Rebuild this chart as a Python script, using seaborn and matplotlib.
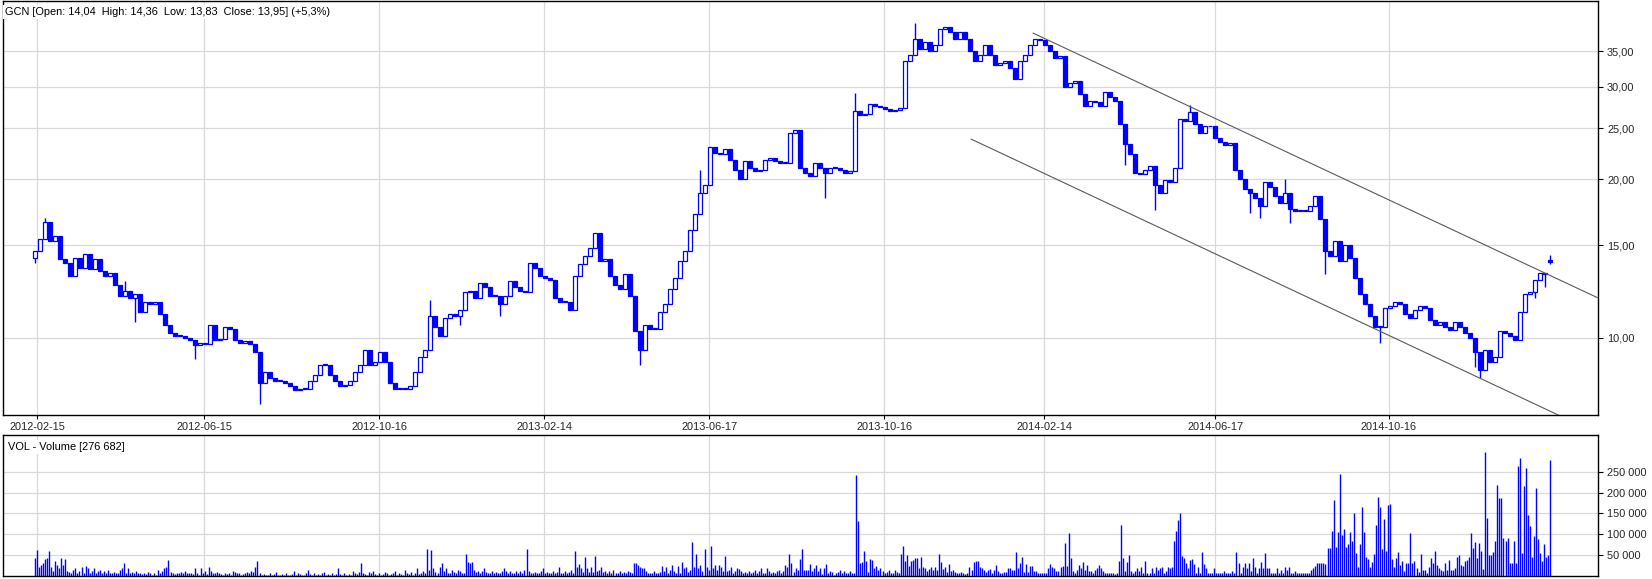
import numpy as np
import matplotlib
matplotlib.use("Agg")
import matplotlib.pyplot as plt
import seaborn as sns
from matplotlib.ticker import FixedLocator, FuncFormatter, NullFormatter

# ---------------- data ----------------
title_text = "GCN [Open: 14,04  High: 14,36  Low: 13,83  Close: 13,95] (+5,3%)"
volume_text = "VOL - Volume [276 682]"

# closing prices, one candle per ~2.5 sessions, oldest first
closes = [
    14.6, 15.4, 16.6, 15.3, 15.6, 14.1, 13.9, 13.1, 14.2, 13.6,
    14.4, 13.5, 14.1, 13.4, 13.1, 13.3, 12.6, 12.0, 12.3, 11.9,
    12.1, 11.2, 11.7, 11.6, 11.7, 11.1, 10.6, 10.2, 10.1, 10.1,
    10.0, 9.9, 9.7, 9.8, 9.75, 10.6, 9.9, 9.95, 10.5, 10.4,
    9.9, 9.8, 9.85, 9.75, 9.4, 8.2, 8.6, 8.4, 8.3, 8.3,
    8.2, 8.1, 7.95, 8.0, 8.0, 8.3, 8.5, 8.9, 8.9, 8.5,
    8.3, 8.1, 8.15, 8.3, 8.6, 8.9, 9.5, 8.9, 9.0, 9.4,
    9.0, 8.2, 8.0, 8.05, 8.0, 8.1, 8.6, 9.2, 9.5, 11.0,
    10.5, 10.1, 10.9, 11.1, 11.0, 11.3, 12.2, 12.3, 11.9, 12.7,
    12.5, 12.0, 12.0, 11.6, 12.0, 12.8, 12.5, 12.3, 12.2, 13.9,
    13.6, 13.1, 13.0, 12.9, 11.9, 11.7, 11.7, 11.3, 13.1, 13.8,
    14.3, 14.8, 15.8, 14.0, 14.1, 13.1, 12.6, 12.4, 13.2, 12.0,
    10.3, 9.5, 10.6, 10.4, 10.4, 11.2, 11.6, 12.4, 13.0, 14.0,
    14.6, 16.0, 17.2, 18.8, 19.5, 23.0, 22.4, 22.3, 22.8, 21.8,
    20.8, 20.0, 21.7, 21.0, 20.7, 20.8, 21.8, 22.0, 21.7, 21.5,
    21.5, 24.5, 24.8, 21.0, 20.6, 20.3, 21.5, 21.0, 20.6, 21.0,
    21.0, 20.8, 20.6, 20.7, 27.0, 26.5, 26.6, 27.8, 27.5, 27.4,
    27.2, 27.0, 27.1, 27.3, 33.5, 34.5, 37.0, 35.3, 36.5, 35.0,
    36.0, 38.5, 39.0, 38.0, 37.0, 38.0, 37.0, 35.0, 33.5, 34.5,
    36.0, 34.5, 33.0, 33.2, 33.5, 32.5, 31.0, 33.5, 34.5, 36.0,
    37.0, 36.8, 36.0, 35.0, 34.0, 34.3, 30.0, 30.5, 30.8, 29.0,
    27.5, 28.2, 28.0, 27.5, 29.3, 28.6, 28.2, 25.5, 23.3, 22.3,
    20.6, 20.5, 20.8, 21.2, 19.5, 18.8, 19.9, 19.8, 21.0, 26.0,
    25.8, 26.8, 25.5, 24.5, 25.3, 25.2, 24.0, 23.5, 23.2, 23.4,
    20.8, 20.0, 19.2, 18.8, 18.4, 17.8, 19.8, 19.3, 18.6, 18.0,
    18.8, 17.6, 17.4, 17.5, 17.4, 17.8, 18.6, 16.8, 14.6, 14.3,
    15.3, 14.0, 15.0, 14.2, 13.0, 12.1, 11.6, 11.0, 10.5, 10.5,
    11.4, 11.5, 11.7, 11.6, 11.1, 10.9, 11.3, 11.5, 11.4, 10.8,
    10.6, 10.7, 10.5, 10.35, 10.7, 10.5, 10.2, 10.0, 9.4, 8.7,
    9.5, 9.0, 9.2, 10.3, 10.2, 10.1, 9.9, 11.2, 12.1, 12.2,
    12.9, 13.3, 13.25, 13.95,
]
first_open = 14.2
last_open, last_high, last_low = 14.04, 14.36, 13.83

# notable shadows (candle number -> price)
wick_high = {2: 16.9, 18: 12.8, 79: 11.8, 133: 20.8, 164: 29.2, 176: 39.6,
             231: 27.7, 250: 20.0}
wick_low = {0: 13.9, 20: 10.7, 32: 9.1, 45: 7.5, 85: 10.6, 93: 11.0, 121: 8.9,
            158: 18.4, 218: 21.3, 224: 17.5, 243: 17.3, 245: 16.9, 251: 16.5,
            258: 13.2, 269: 9.8, 288: 8.8, 289: 8.4, 300: 11.9, 302: 12.5}

# daily volume, thousands of shares
volume_k = (
    [44, 63, 22, 27, 30, 40, 42, 61, 22, 11, 35, 26, 18, 44, 26, 40, 11, 10]
    + [6, 15, 18, 6, 11, 22, 6, 24, 18, 6, 11, 18, 6, 11, 15, 6, 11, 6, 15, 6, 6, 10, 6, 6, 15, 19, 31]
    + [6, 18, 6, 10, 6, 11, 6, 6, 5, 6, 5, 10, 6, 3, 6, 3, 15, 6, 11, 18, 22, 39]
    + [10, 6, 5, 6, 6, 10, 6, 11, 6, 6, 8, 5, 19, 6, 3, 18, 6, 11, 5, 22, 11, 6, 6, 10, 6]
    + [5, 3, 6, 5, 6, 3, 11, 10, 6, 6, 3, 5, 6, 10, 6, 11, 10, 22, 36]
    + [6, 3, 5, 3, 2, 6, 3, 5, 10, 3, 2, 5, 3, 6, 3, 2, 5, 11, 3, 6,
       5, 2, 3, 6, 15, 5, 3, 6, 2, 5, 3, 6, 10, 3, 5, 2, 6, 3, 5, 18,
       5, 3, 6, 2, 5, 3, 11, 6, 5, 10]
    + [31]
    + [6, 5, 3, 10, 6, 11, 5, 3, 6, 2, 5, 10, 6, 3, 5, 6, 11, 3, 6, 5,
       3, 15, 6, 5, 10, 3, 6, 18, 5, 6, 11]
    + [8, 65, 15, 62]
    + [18, 10, 6, 22, 30, 11, 18, 6, 6, 15, 10, 6, 15, 11, 6, 8]
    + [53, 34, 30, 34]
    + [15, 10, 11, 6, 11, 18, 10, 6, 6, 11, 6, 10, 6, 6, 11, 18, 11, 6, 11, 6, 6, 11, 6, 11, 6, 15]
    + [64]
    + [11, 6, 6, 10, 6, 6, 11, 18, 6, 10, 6, 6, 11, 6, 10, 22, 6, 6, 11, 6, 10, 15, 6]
    + [60, 22, 29, 18, 10, 46, 18, 10, 22, 10, 48, 12]
    + [15, 22, 10, 11, 6, 11, 6, 15, 6, 6, 11, 6, 10, 6, 11, 10, 6]
    + [31]
    + [30, 26, 22, 19, 18, 11, 6, 6, 6, 11, 6, 6, 10, 24, 11, 22, 6, 15, 26, 11, 6, 24, 6]
    + [34, 18, 22, 10, 15, 82, 22, 52, 18, 27, 12, 65, 22, 15, 73, 20, 26, 15, 26, 22, 12, 48]
    + [11, 15, 22, 6, 11, 18, 16, 11, 6, 10, 6, 11, 6, 10, 15, 6, 11, 18, 6, 6,
       19, 11, 6, 10, 6, 11, 15, 6, 11, 26, 22]
    + [53]
    + [30, 10, 19, 15, 41, 65, 15, 15, 15]
    + [28, 11, 18, 27, 11, 18, 5]
    + [18, 29, 6, 11, 10]
    + [3, 6, 10, 15, 6, 11, 6, 6, 11, 8]
    + [8, 242, 131]
    + [31, 34, 61, 37, 10, 40, 38, 18, 24, 15, 19, 11, 6, 10, 15, 6, 6, 14, 10, 6]
    + [53, 73, 37, 50, 24, 36, 38, 42, 42, 18, 46]
    + [22, 19, 11, 16, 22, 15, 22]
    + [15, 53]
    + [34, 16, 22, 10, 29, 11, 15, 10, 6, 6, 10, 6, 5, 6, 22, 15, 34, 35, 35, 22,
       18, 15, 10, 15, 16, 6, 15, 27, 11, 8, 6, 10, 10, 18, 18, 15, 15]
    + [58, 18, 30, 46, 10, 29, 10, 23, 24, 11, 11, 6, 6, 6, 6, 6, 18, 29, 22, 18,
       11, 11, 21, 24, 80, 23, 104, 44, 11, 6, 15, 27, 19, 34, 15, 27, 11, 11, 6, 15,
       18, 27, 18, 11, 6, 6, 6, 6, 6, 5]
    + [6, 36, 123, 44, 11, 34, 50, 11, 6, 11, 19, 11, 22, 6, 36, 6, 6, 19, 6, 22,
       15, 18, 22, 6, 11, 22, 18, 22, 85, 109, 135, 150, 48, 42, 31, 18, 38, 40, 29, 6,
       22, 6, 58, 29, 18, 6, 6, 6, 19, 6, 6, 6, 6, 11, 6, 6, 6, 11, 6, 58,
       31, 6, 22, 31, 19, 31, 11, 42, 22, 6, 19, 34, 19, 56, 19, 19, 6, 6, 6, 18,
       6, 15, 6, 22, 15, 22, 6, 6, 11, 6, 6, 6, 6, 6, 6, 6, 15, 20, 25, 30]
    + [32, 30, 32, 28, 68, 68, 109, 182, 70, 106,
       245, 98, 112, 69, 76, 106, 85, 151, 56, 22,
       76, 165, 106, 46, 40, 22, 34, 53, 123, 189,
       165, 64, 137, 60, 171, 173, 40, 22, 43, 57,
       26, 35, 12, 32, 32, 102, 30, 35, 18, 10,
       53, 15, 15, 6, 22, 42, 30, 61, 26, 18,
       15, 13, 30, 15, 38, 14, 15, 20, 46, 50,
       26, 24, 36, 38, 46, 104, 66, 82, 44, 80,
       60, 16, 298, 140, 50, 50, 58, 85, 218, 187,
       188, 90, 85, 90, 30, 30, 85, 30, 264, 283,
       55, 216, 258, 147, 120, 45, 95, 210, 88, 55,
       37, 77, 45, 50, 277]
)

date_labels = ["2012-02-15", "2012-06-15", "2012-10-16", "2013-02-14", "2013-06-17",
               "2013-10-16", "2014-02-14", "2014-06-17", "2014-10-16"]
date_candle = [0.46, 33.86, 68.86, 101.86, 134.86, 169.86, 201.86, 236.06, 270.74]
price_ticks = [10, 15, 20, 25, 30, 35]
volume_ticks = [50000, 100000, 150000, 200000, 250000]
channel_upper_x, channel_upper_y = [199.6, 312.6], [37.9, 11.91]
channel_lower_x, channel_lower_y = [187.2, 312.6], [23.85, 6.58]

# ---------------- style ----------------
sns.set_theme(style="white")
plt.rcParams["font.family"] = ["Liberation Sans", "DejaVu Sans"]
FS = 7.9
BLUE = "#0000ff"
GRID = "#d9d9d9"

W, H = 1652, 579
fig = plt.figure(figsize=(W / 100, H / 100), dpi=100)
fig.patch.set_facecolor("white")
ax = fig.add_axes([3 / W, 1 - 415 / H, (1598 - 3) / W, (415 - 1) / H])
axv = fig.add_axes([3 / W, 1 - 576 / H, (1598 - 3) / W, (576 - 435) / H])

# ---------------- candles ----------------
c = np.array(closes, dtype=float)
n = len(c)
o = np.r_[first_open, c[:-1]]
o[-1] = last_open
hi = np.maximum(o, c)
lo = np.minimum(o, c)
for k, v in wick_high.items():
    hi[k] = max(hi[k], v)
for k, v in wick_low.items():
    lo[k] = min(lo[k], v)
hi[-1] = max(hi[-1], last_high)
lo[-1] = min(lo[-1], last_low)
x = np.arange(n)

ax.vlines(x, lo, hi, colors=BLUE, lw=1.0, zorder=2)
bottom = np.minimum(o, c)
height = np.maximum(np.abs(c - o), bottom * 0.004)
up = c >= o
ax.bar(x[up], height[up], bottom=bottom[up], width=0.66, facecolor="white",
       edgecolor=BLUE, linewidth=0.9, zorder=3)
ax.bar(x[~up], height[~up], bottom=bottom[~up], width=0.66, facecolor=BLUE,
       edgecolor=BLUE, linewidth=0.9, zorder=3)

sns.lineplot(x=channel_upper_x, y=channel_upper_y, ax=ax, color="#5a5a5a", lw=0.8, zorder=4)
sns.lineplot(x=channel_lower_x, y=channel_lower_y, ax=ax, color="#5a5a5a", lw=0.8, zorder=4)

ax.set_yscale("log")
ax.set_ylim(7.14, 43.6)
ax.set_xlim(-6.4, 312.6)
ax.yaxis.set_major_locator(FixedLocator(price_ticks))
ax.yaxis.set_minor_locator(FixedLocator([]))
ax.yaxis.set_major_formatter(FuncFormatter(lambda v, p: f"{v:.2f}".replace(".", ",")))
ax.yaxis.set_minor_formatter(NullFormatter())
ax.yaxis.tick_right()
ax.xaxis.set_major_locator(FixedLocator(date_candle))
ax.set_xticklabels(date_labels)
ax.tick_params(axis="y", which="major", direction="out", length=3.5, width=0.8,
               color="black", labelsize=FS, pad=3, right=True, left=False)
ax.tick_params(axis="x", which="major", direction="out", length=3, width=0.8,
               color="black", labelsize=FS, pad=2, bottom=True)
ax.grid(True, color=GRID, lw=0.9)
ax.set_axisbelow(True)
ax.set_xlabel("")
ax.set_ylabel("")

# ---------------- volume ----------------
vol = np.array(volume_k, dtype=float) * 1000
vx = np.arange(len(vol)) * (n - 1) / (len(vol) - 1)
axv.vlines(vx, 0, vol, colors=BLUE, lw=1.0, zorder=3)
axv.set_xlim(ax.get_xlim())
axv.set_ylim(0, 338000)
axv.yaxis.set_major_locator(FixedLocator(volume_ticks))
axv.yaxis.set_major_formatter(FuncFormatter(lambda v, p: f"{int(v):,}".replace(",", " ")))
axv.yaxis.tick_right()
axv.xaxis.set_major_locator(FixedLocator(date_candle))
axv.set_xticklabels([])
axv.tick_params(axis="y", direction="out", length=3.5, width=0.8, color="black",
                labelsize=FS, pad=3, right=True, left=False)
axv.tick_params(axis="x", length=0)
axv.grid(True, color=GRID, lw=0.9)
axv.set_axisbelow(True)

for a in (ax, axv):
    for s in a.spines.values():
        s.set_color("black")
        s.set_linewidth(1.0)
        s.set_visible(True)

fig.text(5 / W, 1 - 12 / H, title_text, fontsize=FS, va="center", ha="left", color="black",
         bbox=dict(facecolor="white", edgecolor="none", pad=1.5))
fig.text(8 / W, 1 - 447 / H, volume_text, fontsize=FS, va="center", ha="left", color="black",
         bbox=dict(facecolor="white", edgecolor="none", pad=1.5))

fig.savefig("out.png", dpi=100, facecolor="white")
